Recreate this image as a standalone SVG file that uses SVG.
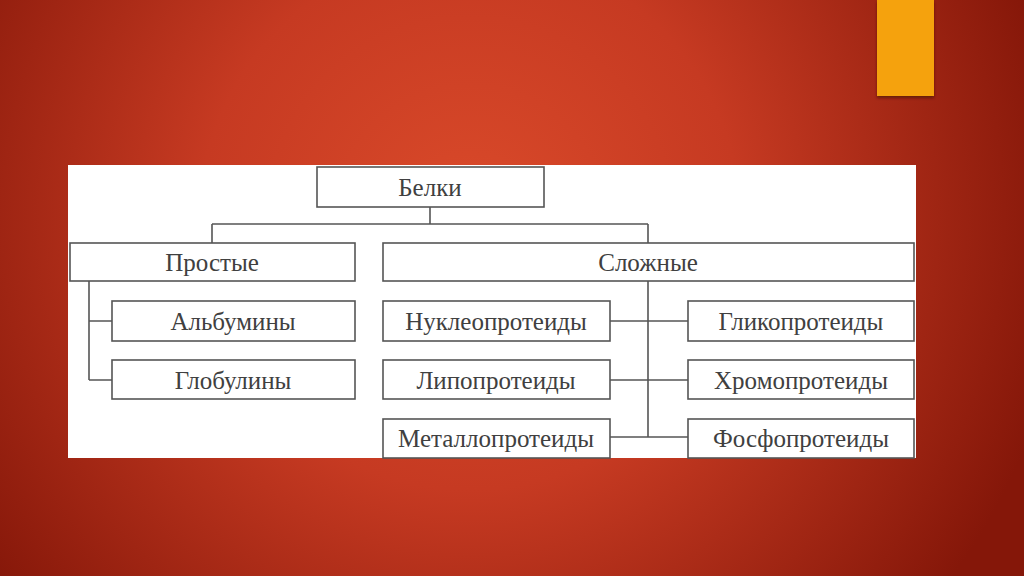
<svg xmlns="http://www.w3.org/2000/svg" width="1024" height="576" viewBox="0 0 1024 576">
<defs>
<radialGradient id="bg" cx="470" cy="220" r="600" gradientUnits="userSpaceOnUse">
<stop offset="0" stop-color="#da4a2a"/>
<stop offset="0.45" stop-color="#c63a22"/>
<stop offset="1" stop-color="#851709"/>
</radialGradient>
<filter id="sh" x="-20%" y="-20%" width="140%" height="140%">
<feDropShadow dx="0" dy="2" stdDeviation="1.5" flood-color="#3a0a00" flood-opacity="0.6"/>
</filter>
<style>
.box{fill:#fff;stroke:#555;stroke-width:1.6}
.t{font-family:"Liberation Serif","DejaVu Serif",serif;font-size:25px;fill:#404040;text-anchor:middle;dominant-baseline:central}
.c{fill:none;stroke:#555;stroke-width:1.6}
</style>
</defs>
<rect width="1024" height="576" fill="url(#bg)"/>
<rect x="877" y="0" width="57" height="96" fill="#f5a20a" filter="url(#sh)"/>
<rect x="68" y="165" width="848" height="293" fill="#fff"/>
<g id="connectors">
<path class="c" d="M430 207V224M212 224H648M212 224V243M648 224V243"/>
<path class="c" d="M89 281V380M89 321H112M89 380H112"/>
<path class="c" d="M648 281V437M610 321H688M610 380H688M610 437H688"/>
</g>
<g id="belki"><rect class="box" x="317" y="167" width="227" height="40"/><text class="t" x="430" y="187">Белки</text></g>
<g id="prostye"><rect class="box" x="70" y="243" width="285" height="38"/><text class="t" x="212" y="262">Простые</text></g>
<g id="slozhnye"><rect class="box" x="383" y="243" width="531" height="38"/><text class="t" x="648" y="262">Сложные</text></g>
<g id="albuminy"><rect class="box" x="112" y="301" width="243" height="40"/><text class="t" x="233" y="321">Альбумины</text></g>
<g id="globuliny"><rect class="box" x="112" y="360" width="243" height="39"/><text class="t" x="233" y="380">Глобулины</text></g>
<g id="nukleo"><rect class="box" x="383" y="301" width="227" height="40"/><text class="t" x="496" y="321">Нуклеопротеиды</text></g>
<g id="lipo"><rect class="box" x="383" y="360" width="227" height="39"/><text class="t" x="496" y="380">Липопротеиды</text></g>
<g id="metallo"><rect class="box" x="383" y="419" width="227" height="39"/><text class="t" x="496" y="438">Металлопротеиды</text></g>
<g id="gliko"><rect class="box" x="688" y="301" width="226" height="40"/><text class="t" x="801" y="321">Гликопротеиды</text></g>
<g id="khromo"><rect class="box" x="688" y="360" width="226" height="39"/><text class="t" x="801" y="380">Хромопротеиды</text></g>
<g id="fosfo"><rect class="box" x="688" y="419" width="226" height="39"/><text class="t" x="801" y="438">Фосфопротеиды</text></g>
</svg>
